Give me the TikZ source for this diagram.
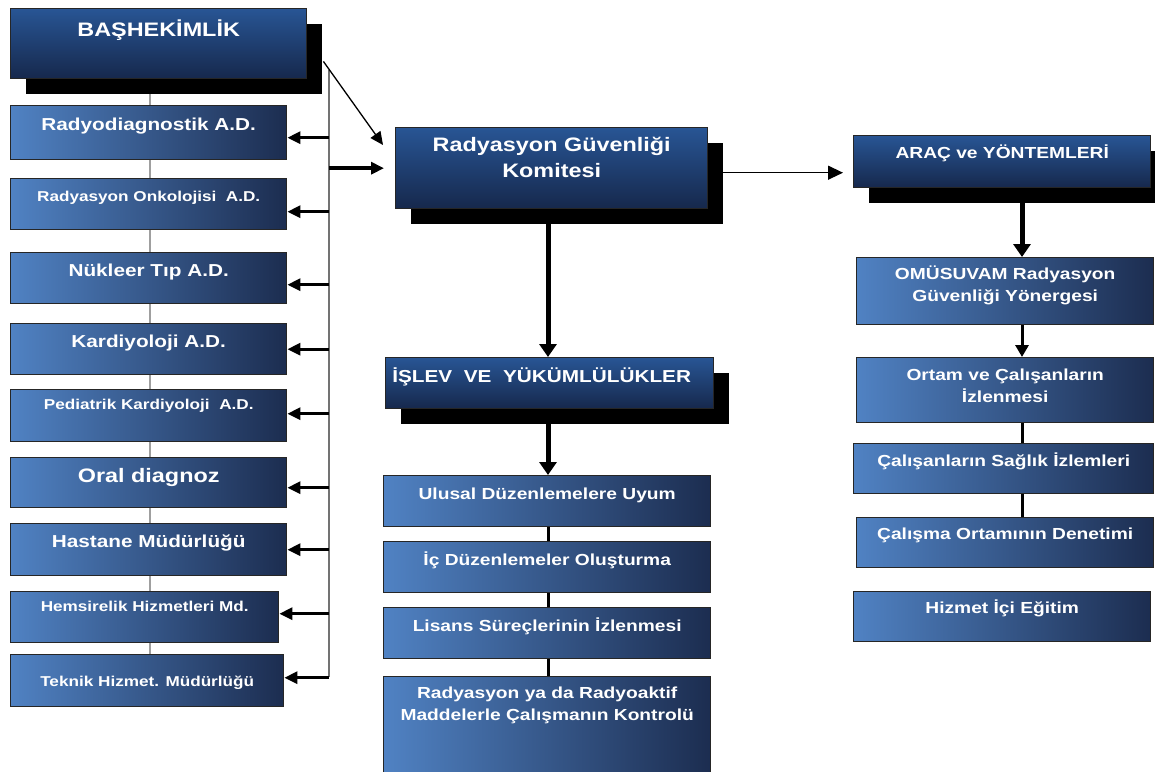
\documentclass[tikz,border=0pt]{standalone}
\usepackage{fontspec}
\setmainfont{Liberation Sans}[FakeStretch=1.2]
\usetikzlibrary{arrows.meta,shadows,backgrounds}
\definecolor{deptL}{RGB}{80,130,195}
\definecolor{deptR}{RGB}{28,45,80}
\definecolor{headT}{RGB}{40,85,148}
\definecolor{headB}{RGB}{22,40,76}
\newcommand{\fB}{\fontsize{19.5}{26}\selectfont\bfseries}
\newcommand{\fM}{\fontsize{17.3}{22}\selectfont\bfseries}
\newcommand{\fS}{\fontsize{14.3}{19}\selectfont\bfseries}
\newcommand{\fC}{\fontsize{16}{21.5}\selectfont\bfseries}
\tikzstyle{deptbox}=[rectangle,draw=black!85,line width=1.4pt,left color=deptL,right color=deptR,anchor=north west,inner sep=0pt]
\tikzstyle{headbox}=[rectangle,draw=black!85,line width=1.4pt,top color=headT,bottom color=headB,anchor=north west,inner sep=0pt,general shadow={fill=black,shadow xshift=15pt,shadow yshift=-15pt}]
\tikzstyle{txtB}=[anchor=north,text=white,inner sep=0pt,align=center,font=\fB,text height=14pt]
\tikzstyle{txtM}=[anchor=north,text=white,inner sep=0pt,align=center,font=\fM,text height=12.4pt]
\tikzstyle{txtS}=[anchor=north,text=white,inner sep=0pt,align=center,font=\fS,text height=10.2pt]
\tikzstyle{txtC}=[anchor=north,text=white,inner sep=0pt,align=center,font=\fC,text height=11.5pt]
\tikzstyle{thkarrow}=[line width=3pt,-{Triangle[length=13pt,width=12pt]}]
\tikzstyle{vthk}=[line width=5pt,-{Triangle[length=13pt,width=17pt]}]
\tikzstyle{mthk}=[line width=3pt,-{Triangle[length=12pt,width=13pt]}]
\tikzstyle{thnarrow}=[line width=1.3pt,-{Triangle[length=13pt,width=12pt]}]
\tikzstyle{lnk}=[line width=3pt]
\tikzstyle{grayline}=[line width=2.5pt,gray!75]
\tikzstyle{spline}=[line width=2pt,black!55]
\newcommand{\deptbox}{\node[deptbox]}
\newcommand{\headbox}{\node[headbox]}

\begin{document}
\begin{tikzpicture}[x=1pt,y=-1pt]
		\useasboundingbox (0,0) rectangle (1155,771);
		\clip (0,0) rectangle (1155,771);
		% % % % % % % % % % % % % % % % % % % % % % % % % % % % %
		\headbox [minimum width=296, minimum height=70, label={[txtB,yshift=-14pt]north:{BAŞHEKİMLİK}}] (bas) at (10,8) {};
		%*********************
		\deptbox [minimum width=276, minimum height=54, label={[txtM,yshift=-13pt]north:{Radyodiagnostik A.D.}}] (radyo) at (10,105) {};
		\deptbox [minimum width=276, minimum height=51, label={[txtS,yshift=-13pt]north:{Radyasyon Onkolojisi~~A.D.}}] (onko) at (10,178) {};
		\deptbox [minimum width=276, minimum height=51, label={[txtM,yshift=-12pt]north:{Nükleer Tıp A.D.}}] (nukl) at (10,252) {};
		\deptbox [minimum width=276, minimum height=51, label={[txtM,yshift=-12pt]north:{Kardiyoloji A.D.}}] (kard) at (10,323) {};
		\deptbox [minimum width=276, minimum height=52, label={[txtS,yshift=-10pt]north:{Pediatrik Kardiyoloji~~A.D.}}] (pedi) at (10,389) {};
		\deptbox [minimum width=276, minimum height=50, label={[txtB,yshift=-11pt]north:{Oral diagnoz}}] (oral) at (10,457) {};
		\deptbox [minimum width=276, minimum height=52, label={[txtM,yshift=-12pt]north:{Hastane Müdürlüğü}}] (hast) at (10,523) {};
		\deptbox [minimum width=268, minimum height=51, label={[txtS,yshift=-10pt]north:{Hemsirelik Hizmetleri Md.}}] (hems) at (10,591) {};
		\deptbox [minimum width=273, minimum height=52, label={[txtS,yshift=-22pt]north:{Teknik Hizmet. Müdürlüğü}}] (tekn) at (10,654) {};
		%*********************
		\headbox [minimum width=312, minimum height=81, label={[txtB,text height=40pt,yshift=-10pt]north:{Radyasyon Güvenliği\\Komitesi}}] (komite) at (395,127) {};
		\headbox [minimum width=328, minimum height=51, label={[txtM,yshift=-13pt,xshift=-8pt]north:{İŞLEV~~VE~~YÜKÜMLÜLÜKLER}}] (islev) at (385,357) {};
		\deptbox [minimum width=327, minimum height=51, label={[txtC,yshift=-13pt]north:{Ulusal Düzenlemelere Uyum}}] (ulusal) at (383,475) {};
		\deptbox [minimum width=327, minimum height=51, label={[txtC,yshift=-13pt]north:{İç Düzenlemeler Oluşturma}}] (ic) at (383,541) {};
		\deptbox [minimum width=327, minimum height=51, label={[txtC,yshift=-13pt]north:{Lisans Süreçlerinin İzlenmesi}}] (lisans) at (383,607) {};
		\deptbox [minimum width=327, minimum height=110, label={[txtC,text height=33pt,yshift=-11pt]north:{Radyasyon ya da Radyoaktif\\Maddelerle Çalışmanın Kontrolü}}] (kontrol) at (383,676) {};
		%*********************
		\headbox [minimum width=297, minimum height=52, label={[txtC,yshift=-12pt]north:{ARAÇ ve YÖNTEMLERİ}}] (arac) at (853,135) {};
		\deptbox [minimum width=297, minimum height=67, label={[txtC,text height=33pt,yshift=-11pt]north:{OMÜSUVAM Radyasyon\\Güvenliği Yönergesi}}] (omu) at (856,257) {};
		\deptbox [minimum width=297, minimum height=65, label={[txtC,text height=33pt,yshift=-12pt]north:{Ortam ve Çalışanların\\İzlenmesi}}] (ortam) at (856,357) {};
		\deptbox [minimum width=300, minimum height=50, label={[txtC,yshift=-12pt]north:{Çalışanların Sağlık İzlemleri}}] (saglik) at (853,443) {};
		\deptbox [minimum width=297, minimum height=50, label={[txtC,yshift=-11pt]north:{Çalışma Ortamının Denetimi}}] (denetim) at (856,517) {};
		\deptbox [minimum width=297, minimum height=50, label={[txtC,yshift=-11pt]north:{Hizmet İçi Eğitim}}] (egitim) at (853,591) {};
		%*********************
		\coordinate (sptop) at (329,70);
		\coordinate (spbot) at (329,677);
		\coordinate (lcol) at (150,0);
		\coordinate (ccol) at (548,0);
		\coordinate (rcol) at (1022,0);
		%*********************
		\begin{scope}[on background layer]
		\path (bas.south -| lcol) edge [grayline] (tekn.north -| lcol);
		\end{scope}
		
		\path
		% % % % % % % % % % % % % % % % %
		(sptop) edge [spline] (spbot)
		([xshift=16pt,yshift=18pt]bas.south east) edge [thnarrow] ([xshift=-12pt,yshift=-18pt]komite.north west)
		(sptop |- komite.west) edge [thkarrow, shorten >=11pt, line width=3.5pt] (komite.west)
		%**************
		([yshift=-5pt]radyo.east -| sptop) edge [thkarrow] ([yshift=-5pt]radyo.east)
		([yshift=-7.5pt]onko.east -| sptop) edge [thkarrow] ([yshift=-7.5pt]onko.east)
		([yshift=-6.5pt]nukl.east -| sptop) edge [thkarrow] ([yshift=-6.5pt]nukl.east)
		(kard.east -| sptop) edge [thkarrow] (kard.east)
		([yshift=2pt]pedi.east -| sptop) edge [thkarrow] ([yshift=2pt]pedi.east)
		([yshift=-5pt]oral.east -| sptop) edge [thkarrow] ([yshift=-5pt]oral.east)
		(hast.east -| sptop) edge [thkarrow] (hast.east)
		([yshift=3.5pt]hems.east -| sptop) edge [thkarrow] ([yshift=3.5pt]hems.east)
		([yshift=3pt]tekn.east -| sptop) edge [thkarrow] ([yshift=3pt]tekn.east)
		%**************
		(komite.south -| ccol) edge [vthk] (islev.north -| ccol)
		([xshift=15pt,yshift=-4.5pt]komite.east) edge [thnarrow, shorten >=10pt, -{Triangle[length=15pt,width=14pt]}] ([yshift=-4.5pt]komite.east -| arac.west)
		(islev.south -| ccol) edge [vthk] (ulusal.north -| ccol)
		(ulusal.south -| ccol) edge [lnk] (ic.north -| ccol)
		(ic.south -| ccol) edge [lnk] (lisans.north -| ccol)
		(lisans.south -| ccol) edge [lnk] (kontrol.north -| ccol)
		%**************
		(arac.south -| rcol) edge [vthk] (omu.north -| rcol)
		(omu.south -| rcol) edge [mthk] (ortam.north -| rcol)
		(ortam.south -| rcol) edge [lnk] (saglik.north -| rcol)
		(saglik.south -| rcol) edge [lnk] (denetim.north -| rcol)
		%********************
		;
\end{tikzpicture}
\end{document}
